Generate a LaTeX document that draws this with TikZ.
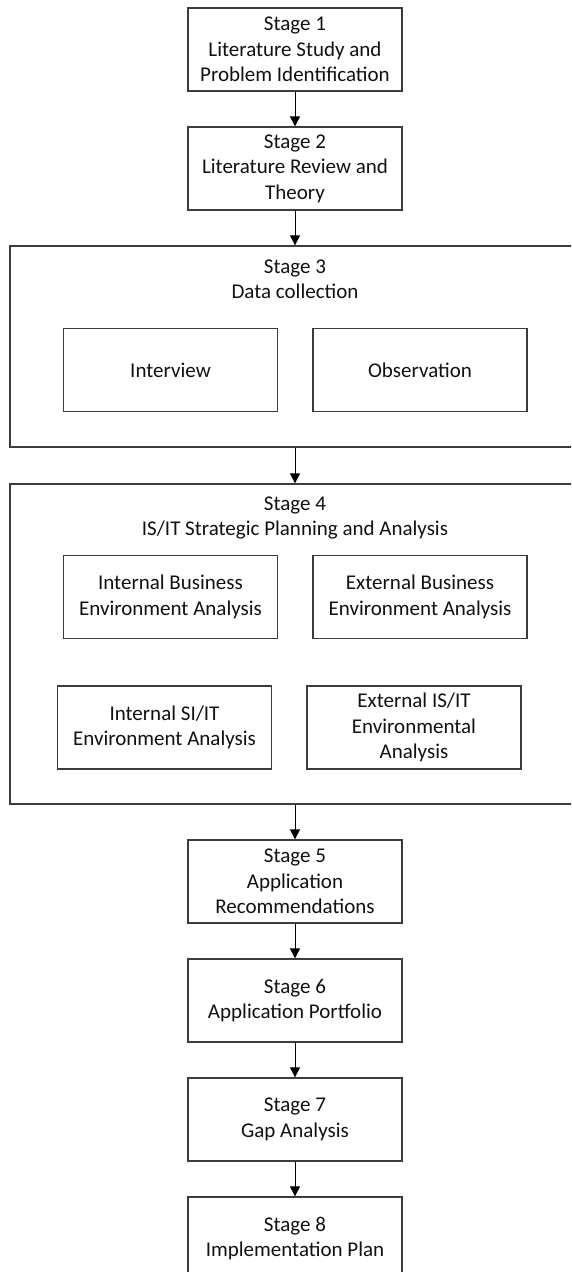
\documentclass[tikz,border=0pt]{standalone}
\usepackage{fontspec}
\setmainfont{Carlito}
\usepackage{tikz}
\usepackage{xcolor}
\usetikzlibrary{arrows.meta,positioning}
\definecolor{ink}{HTML}{111111}
\definecolor{frame}{HTML}{3C3C3C}

\begin{document}
\begin{tikzpicture}[x=1pt,y=-1pt,
  font=\fontsize{21}{25.5}\selectfont, text=ink,
  stagebox/.style={draw=frame,line width=1.3pt,fill=white,align=center,
                   minimum width=214pt,minimum height=83pt,inner sep=0pt},
  groupbox/.style={draw=frame,line width=1.3pt,minimum width=570pt,inner sep=0pt},
  flow/.style={draw=black,line width=0.9pt,-{Triangle[length=10pt,width=10pt]}}]

  \clip (0,0) rectangle (571,1272);

  % the straight stages
  \node[stagebox] (S1) at (295,49.5)   {Stage 1\\Literature Study and\\Problem Identification};
  \node[stagebox] (S2) at (295,168.5)  {Stage 2\\Literature Review and\\Theory};
  \node[stagebox] (S5) at (295,881.5)  {Stage 5\\Application\\Recommendations};
  \node[stagebox] (S6) at (295,1000.5) {Stage 6\\Application Portfolio};
  \node[stagebox] (S7) at (295,1119.5) {Stage 7\\Gap Analysis};
  \node[stagebox] (S8) at (295,1238.5) {Stage 8\\Implementation Plan};

  % stage 3: data collection with its two methods
  \node[groupbox,minimum height=201pt] (S3) at (295,346.5) {};
  \node[align=center] (S3title) at (295,279.5) {Stage 3\\Data collection};
  \node[stagebox] (interview) at (170.5,370) {Interview};
  \node[stagebox] (observation) at (420,370) {Observation};

  % stage 4: the four environment analyses
  \node[groupbox,minimum height=320pt] (S4) at (295,644) {};
  \node[align=center] (S4title) at (295,518) {Stage 4\\IS/IT Strategic Planning and Analysis};
  \node[stagebox] (intbiz) at (170.5,597) {Internal Business\\Environment Analysis};
  \node[stagebox] (extbiz) at (420,597)   {External Business\\Environment Analysis};
  \node[stagebox] (intit)  at (164.5,727.5) {Internal SI/IT\\Environment Analysis};
  \node[stagebox] (extit)  at (414,727.5)   {External IS/IT\\Environmental\\Analysis};

  \draw[flow] (S1) -- (S2);
  \draw[flow] (S2) -- (S2 |- S3.north);
  \draw[flow] (S2 |- S3.south) -- (S2 |- S4.north);
  \draw[flow] (S5 |- S4.south) -- (S5);
  \foreach \a/\b in {S5/S6,S6/S7,S7/S8}{
    \draw[flow] (\a) -- (\b);
  }
\end{tikzpicture}
\end{document}
